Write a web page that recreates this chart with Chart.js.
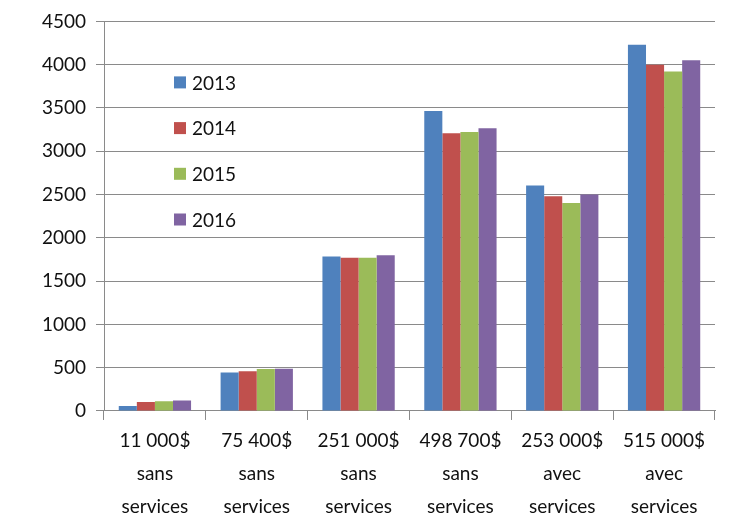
<!DOCTYPE html>
<html>
<head>
<meta charset="utf-8">
<script src="https://cdn.jsdelivr.net/npm/chart.js@4"></script>
<style>
html,body{margin:0;padding:0;background:#fff;}
#wrap{width:742px;height:517px;}
</style>
</head>
<body>
<div id="wrap"><canvas id="c" width="742" height="517"></canvas></div>
<script>
const categories = [
  ["11 000$", "sans", "services"],
  ["75 400$", "sans", "services"],
  ["251 000$", "sans", "services"],
  ["498 700$", "sans", "services"],
  ["253 000$", "avec", "services"],
  ["515 000$", "avec", "services"]
];
const seriesNames = ["2013", "2014", "2015", "2016"];
const values2013 = [58, 443, 1785, 3465, 2604, 4230];
const values2014 = [104, 459, 1770, 3208, 2480, 4000];
const values2015 = [112, 486, 1770, 3222, 2403, 3920];
const values2016 = [120, 489, 1800, 3265, 2500, 4050];
const yTicks = [0, 500, 1000, 1500, 2000, 2500, 3000, 3500, 4000, 4500];
const colors = ["#4F81BD", "#C0504D", "#9BBB59", "#8064A2"];

const seriesValues = [values2013, values2014, values2015, values2016];
const FONT = "Lato, 'Liberation Sans', sans-serif";

const insideLegend = {
  id: "insideLegend",
  afterDraw(chart) {
    const ctx = chart.ctx;
    const area = chart.chartArea;
    ctx.save();
    ctx.font = "19px " + FONT;
    ctx.textBaseline = "middle";
    chart.data.datasets.forEach((ds, i) => {
      const y = area.top + 61 + i * 45.7;
      const x = area.left + 70;
      ctx.fillStyle = ds.backgroundColor;
      ctx.fillRect(x, y - 6, 12, 12);
      ctx.fillStyle = "#111";
      ctx.fillText(ds.label, x + 18, y + 1);
    });
    ctx.restore();
  }
};

new Chart(document.getElementById("c"), {
  type: "bar",
  data: {
    labels: categories,
    datasets: seriesNames.map((n, i) => ({
      label: n,
      data: seriesValues[i],
      backgroundColor: colors[i],
      borderWidth: 0,
      barPercentage: 1.0,
      categoryPercentage: 0.71
    }))
  },
  options: {
    responsive: false,
    animation: false,
    devicePixelRatio: 1,
    layout: { padding: { top: 15, right: 27, left: 0, bottom: -11 } },
    plugins: { legend: { display: false }, tooltip: { enabled: false } },
    scales: {
      x: {
        grid: { offset: true, drawOnChartArea: false, color: "#8a8a8a", tickLength: 9, lineWidth: 1 },
        border: { color: "#8a8a8a" },
        ticks: { color: "#111", font: { family: FONT, size: 19, lineHeight: 1.72 }, maxRotation: 0, padding: 5 }
      },
      y: {
        min: 0, max: 4500,
        afterBuildTicks(scale) { scale.ticks = yTicks.map(v => ({ value: v })); },
        afterFit(scale) { scale.width = 104; },
        grid: { color: "#8a8a8a", tickLength: 8, lineWidth: 1 },
        border: { color: "#8a8a8a" },
        ticks: { color: "#111", font: { family: FONT, size: 19 }, padding: 10, callback: v => String(v) }
      }
    }
  },
  plugins: [insideLegend]
});
</script>
</body>
</html>
